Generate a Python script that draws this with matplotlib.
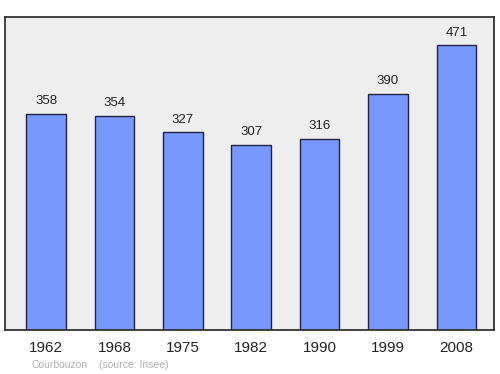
import matplotlib
matplotlib.use("Agg")
import matplotlib.pyplot as plt

plt.rcParams['font.family'] = ['Liberation Sans', 'DejaVu Sans']

years = ["1962", "1968", "1975", "1982", "1990", "1999", "2008"]
population = [358, 354, 327, 307, 316, 390, 471]
commune = "Courbouzon"
source = "(source: Insee)"

W, H = 500, 374
fig = plt.figure(figsize=(W/100, H/100), dpi=100)
fig.patch.set_facecolor("white")
ax = fig.add_axes([5/W, 1 - 330/H, 489/W, 313/H])
ax.set_facecolor("#eeeeee")
x = list(range(len(years)))
ax.bar(x, population, width=0.577, color="#7799ff", edgecolor="#222244", linewidth=1.0, zorder=2)
for xi, v in zip(x, population):
    ax.annotate(str(v), (xi, v), xytext=(0, 5), textcoords="offset points",
                ha="center", va="bottom", fontsize=9.5, color="#222222")
ax.set_xlim(-0.6, 6.55)
ax.set_ylim(0, max(population) * 1.1)
ax.set_yticks([])
ax.set_xticks(x)
ax.set_xticklabels(years, fontsize=11, color="#222222")
ax.tick_params(axis="x", length=0, pad=8)
for s in ax.spines.values():
    s.set_color("#333333")
    s.set_linewidth(1.3)
fig.text(31/W, 1 - 365/H, commune, fontsize=7.5, color="#b0b0b0", va="center", ha="left")
fig.text(99/W, 1 - 365/H, source, fontsize=7.5, color="#b0b0b0", va="center", ha="left")
fig.savefig("out.png", dpi=100)
